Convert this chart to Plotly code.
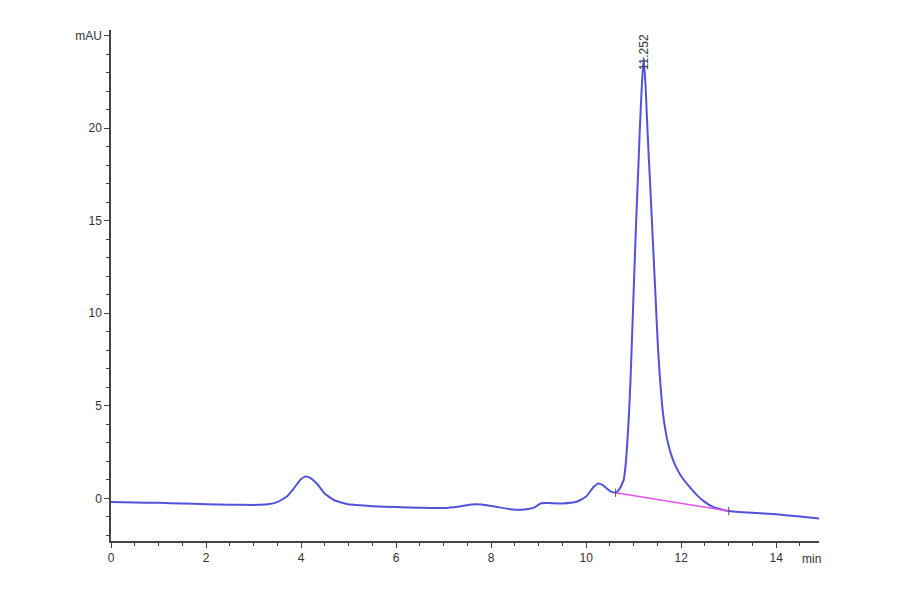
import plotly.graph_objects as go

# Chromatogram trace (time in min, absorbance in mAU)
time_min = [0.0, 0.5, 1.0, 1.5, 2.0, 2.5, 3.0, 3.3, 3.5, 3.7, 3.85, 4.0, 4.1, 4.2,
            4.35, 4.5, 4.7, 5.0, 5.5, 6.0, 6.5, 7.0, 7.3, 7.6, 7.8, 8.1, 8.4, 8.7,
            8.9, 9.05, 9.2, 9.5, 9.8, 10.0, 10.15, 10.25, 10.35, 10.5, 10.62, 10.7,
            10.79, 10.83, 10.86, 10.9, 10.93, 10.96, 10.99, 11.03, 11.06, 11.1, 11.13,
            11.17, 11.21, 11.25, 11.28, 11.32, 11.35, 11.4, 11.46, 11.51, 11.55, 11.6,
            11.66, 11.73, 11.81, 11.9, 12.0, 12.15, 12.34, 12.5, 12.68, 12.83, 13.0,
            13.5, 14.0, 14.5, 14.9]
signal_mau = [-0.20, -0.22, -0.24, -0.27, -0.31, -0.34, -0.35, -0.32, -0.20, 0.10,
              0.55, 1.05, 1.18, 1.10, 0.75, 0.25, -0.10, -0.32, -0.42, -0.47, -0.50,
              -0.52, -0.45, -0.33, -0.33, -0.45, -0.58, -0.60, -0.50, -0.26, -0.25,
              -0.27, -0.18, 0.10, 0.60, 0.80, 0.72, 0.40, 0.30, 0.50, 1.0, 1.8, 2.8,
              4.5, 6.2, 8.3, 10.5, 13.4, 15.5, 18.0, 20.0, 22.2, 23.8, 22.3, 20.5, 18.3,
              16.8, 14.1, 10.9, 8.2, 6.6, 5.0, 3.8, 2.9, 2.2, 1.65, 1.2, 0.7, 0.15,
              -0.20, -0.47, -0.58, -0.68, -0.78, -0.86, -0.98, -1.08]

# Integration baseline of the main peak
baseline_time = [10.62, 13.0]
baseline_mau = [0.30, -0.68]

# Peak label
peak_time = 11.21
peak_label_mau = 23.0
peak_label = "11.252"

x_tickvals = [0, 2, 4, 6, 8, 10, 12, 14]
x_ticktext = ["0", "2", "4", "6", "8", "10", "12", "14"]
y_tickvals = [0, 5, 10, 15, 20, 25]
y_ticktext = ["0", "5", "10", "15", "20", "mAU"]

font_family = "Liberation Sans, Arial, sans-serif"
axis_color = "#444444"

fig = go.Figure()
fig.add_trace(go.Scatter(x=time_min, y=signal_mau, mode="lines",
                         line=dict(color="#5252dc", width=2, shape="spline", smoothing=0.4),
                         hoverinfo="skip", showlegend=False))
fig.add_trace(go.Scatter(x=baseline_time, y=baseline_mau, mode="lines+markers",
                         line=dict(color="#e055e8", width=1.5),
                         marker=dict(symbol="line-ns-open", size=6, color="#555555",
                                     line=dict(width=1, color="#555555")),
                         hoverinfo="skip", showlegend=False))

fig.add_annotation(x=peak_time, y=peak_label_mau, text=peak_label, textangle=-90,
                   showarrow=False, yanchor="bottom",
                   font=dict(family=font_family, size=12, color="#333333"))
fig.add_annotation(x=14.75, y=0, yref="paper", text="min", showarrow=False,
                   yanchor="top", yshift=-9,
                   font=dict(family=font_family, size=12, color="#333333"))

fig.update_layout(
    width=900, height=594,
    margin=dict(l=103, r=89, t=22, b=61),
    paper_bgcolor="white", plot_bgcolor="white",
    font=dict(family=font_family, size=12, color="#333333"),
    xaxis=dict(range=[0, 14.9], tickvals=x_tickvals, ticktext=x_ticktext,
               showgrid=False, zeroline=False, showline=True, linecolor=axis_color,
               linewidth=1.5, ticks="outside", ticklen=5, tickcolor=axis_color,
               minor=dict(dtick=0.5, ticks="outside", ticklen=3, tickcolor=axis_color,
                          showgrid=False)),
    yaxis=dict(range=[-2.3, 25.3], tickvals=y_tickvals, ticktext=y_ticktext,
               showgrid=False, zeroline=False, showline=True, linecolor=axis_color,
               linewidth=1.5, ticks="outside", ticklen=5, tickcolor=axis_color,
               minor=dict(dtick=1, ticks="outside", ticklen=3, tickcolor=axis_color,
                          showgrid=False)),
)

fig.write_html("out.html")
